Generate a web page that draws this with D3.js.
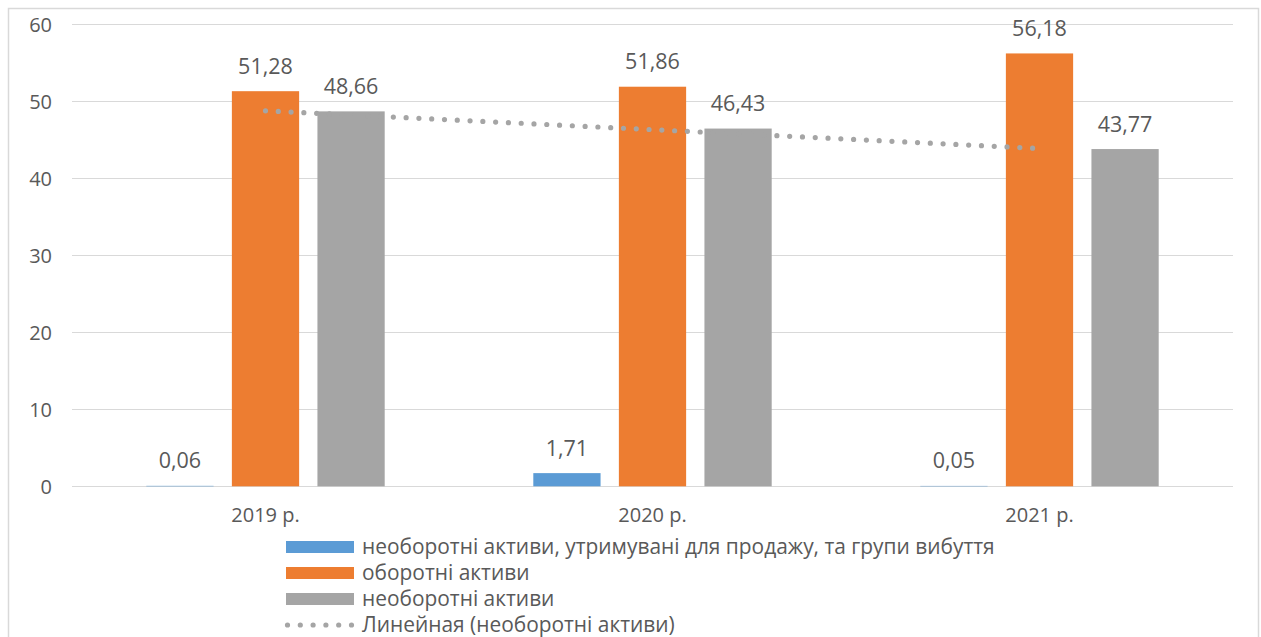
<!DOCTYPE html>
<html>
<head>
<meta charset="utf-8">
<script src="https://cdn.jsdelivr.net/npm/d3@7"></script>
<style>
  html, body { margin: 0; padding: 0; background: #fff; }
  svg { display: block; }
  text { font-family: "Open Sans", "Noto Sans", sans-serif; fill: #595959; }
</style>
</head>
<body>
<svg id="chart" width="1261" height="637"></svg>
<script>
// Categories (years) and series values
const categories = ["2019 р.", "2020 р.", "2021 р."];
const seriesNames = [
  "необоротні активи, утримувані для продажу, та групи вибуття",
  "оборотні активи",
  "необоротні активи"
];
const heldForSale = [0.06, 1.71, 0.05];
const currentAssets = [51.28, 51.86, 56.18];
const nonCurrentAssets = [48.66, 46.43, 43.77];
const yTicks = [0, 10, 20, 30, 40, 50, 60];
const trendName = "Линейная (необоротні активи)";
const seriesColors = ["#5B9BD5", "#ED7D31", "#A5A5A5"];

const seriesValues = [heldForSale, currentAssets, nonCurrentAssets];
const fmt = v => d3.format(".2f")(v).replace(".", ",");

const svg = d3.select("#chart");

// Chart area frame
svg.append("rect")
  .attr("x", 8.5).attr("y", 8.5)
  .attr("width", 1250).attr("height", 660)
  .attr("fill", "#fff").attr("stroke", "#d9d9d9").attr("stroke-width", 1.5);

const plot = { left: 72, right: 1233, top: 24, bottom: 486.3 };

const y = d3.scaleLinear().domain([0, 60]).range([plot.bottom, plot.top]);
const x0 = d3.scaleBand().domain(categories).range([plot.left, plot.right]).padding(0);
const groupWidth = x0.bandwidth() * 0.616;
const x1 = d3.scaleBand().domain(d3.range(seriesNames.length))
  .range([0, groupWidth]).paddingInner(0.214).paddingOuter(0);
const groupOffset = (x0.bandwidth() - groupWidth) / 2;

// Gridlines
svg.append("g").selectAll("line").data(yTicks).join("line")
  .attr("x1", plot.left).attr("x2", plot.right)
  .attr("y1", d => Math.round(y(d)) + 0.5).attr("y2", d => Math.round(y(d)) + 0.5)
  .attr("stroke", "#d9d9d9").attr("stroke-width", 1);

// Y axis labels
const yAxis = d3.axisLeft(y).tickValues(yTicks).tickSize(0).tickPadding(0);
const yg = svg.append("g").attr("transform", `translate(${plot.left - 20},0)`).call(yAxis);
yg.select(".domain").remove();
yg.selectAll("text")
  .attr("font-size", 20).attr("font-family", "Open Sans, sans-serif")
  .attr("fill", "#595959").attr("dy", "0.36em");

// X axis labels
const xAxis = d3.axisBottom(x0).tickSize(0).tickPadding(0);
const xg = svg.append("g").attr("transform", `translate(0,${plot.bottom})`).call(xAxis);
xg.select(".domain").remove();
xg.selectAll("text")
  .attr("font-size", 20).attr("font-family", "Open Sans, sans-serif")
  .attr("fill", "#595959").attr("dy", null).attr("y", 36);

// Bars
const groups = svg.append("g").selectAll("g").data(categories).join("g")
  .attr("transform", c => `translate(${x0(c) + groupOffset},0)`);

groups.each(function(c, ci) {
  const g = d3.select(this);
  seriesValues.forEach((vals, si) => {
    const v = vals[ci];
    g.append("rect")
      .attr("x", x1(si)).attr("width", x1.bandwidth())
      .attr("y", y(v)).attr("height", y(0) - y(v))
      .attr("fill", seriesColors[si]);
    g.append("text")
      .attr("x", x1(si) + x1.bandwidth() / 2)
      .attr("y", y(v) - 17.5)
      .attr("text-anchor", "middle")
      .attr("font-size", 21.5)
      .text(fmt(v));
  });
});

// Linear trend of non-current assets (least squares over category index)
const idx = d3.range(nonCurrentAssets.length);
const mx = d3.mean(idx), my = d3.mean(nonCurrentAssets);
const slope = d3.sum(idx, i => (i - mx) * (nonCurrentAssets[i] - my)) / d3.sum(idx, i => (i - mx) ** 2);
const icpt = my - slope * mx;
const trendPts = [0, idx.length - 1].map(i => [
  x0(categories[i]) + groupOffset + x1(1) + x1.bandwidth() / 2,
  y(icpt + slope * i)
]);
svg.append("path")
  .attr("d", d3.line()(trendPts))
  .attr("fill", "none").attr("stroke", "#A5A5A5")
  .attr("stroke-width", 5.2).attr("stroke-linecap", "round")
  .attr("stroke-dasharray", "0 12.8");

// Legend
const legendItems = seriesNames.map((n, i) => ({ name: n, color: seriesColors[i], type: "bar" }))
  .concat([{ name: trendName, color: "#A5A5A5", type: "trend" }]);
const legend = svg.append("g").selectAll("g").data(legendItems).join("g")
  .attr("transform", (d, i) => `translate(286,${547 + i * 26})`);
legend.filter(d => d.type === "bar").append("rect")
  .attr("x", 0).attr("y", -6).attr("width", 68).attr("height", 12)
  .attr("fill", d => d.color);
legend.filter(d => d.type === "trend").append("line")
  .attr("x1", 1.5).attr("x2", 68).attr("y1", 0).attr("y2", 0)
  .attr("stroke", d => d.color).attr("stroke-width", 5.2)
  .attr("stroke-linecap", "round").attr("stroke-dasharray", "0 12.8");
legend.append("text")
  .attr("x", 76).attr("y", 0).attr("dy", "0.35em")
  .attr("font-size", 20.9)
  .text(d => d.name);
</script>
</body>
</html>
